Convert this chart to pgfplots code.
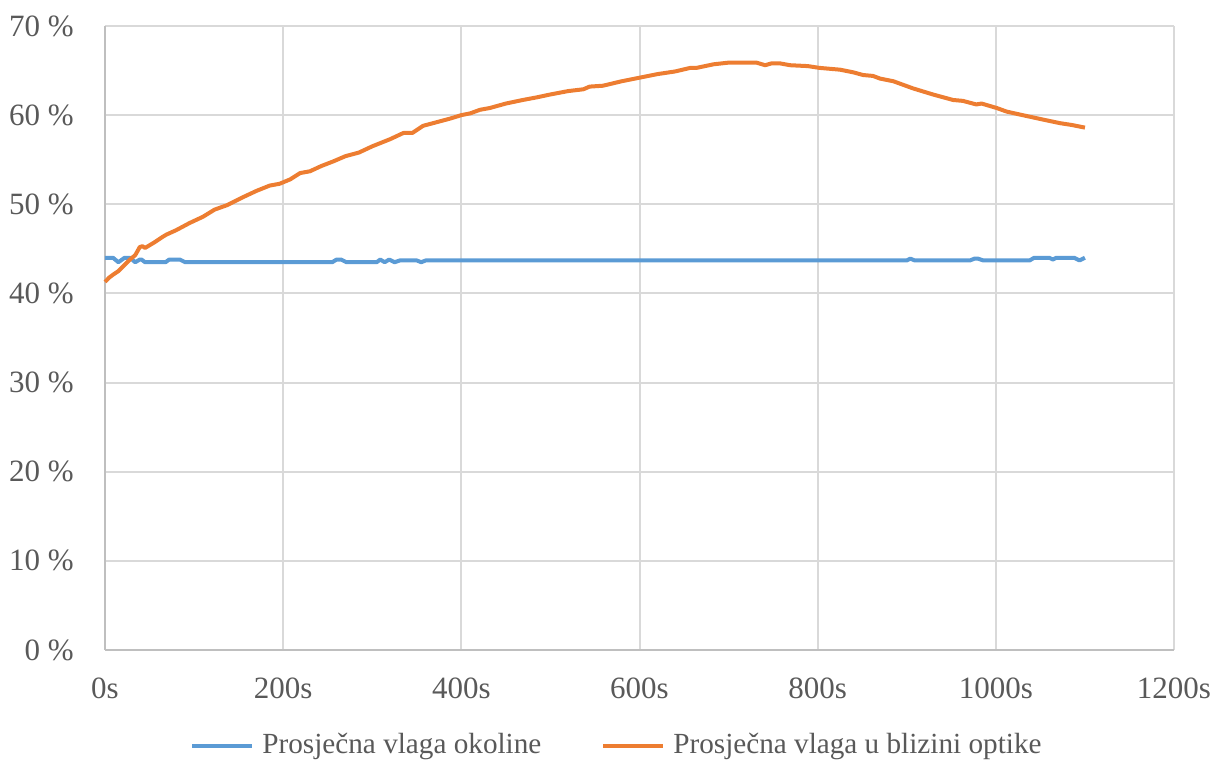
\documentclass[border=0pt]{standalone}
\usepackage{pgfplots}
\pgfplotsset{compat=1.18}
\usepackage{fontspec}
\setmainfont{Liberation Serif}
\usetikzlibrary{calc}

\definecolor{serblue}{HTML}{5B9BD5}
\definecolor{serorange}{HTML}{ED7D31}
\definecolor{txtgray}{HTML}{595959}
\definecolor{gridgray}{HTML}{D9D9D9}
\definecolor{axgray}{HTML}{BFBFBF}

\begin{document}
\begin{tikzpicture}
\fontsize{15.5pt}{18pt}\selectfont
\begin{axis}[
    name=ax,
    scale only axis,
    width=534.5pt, height=312pt,
    xmin=0, xmax=1200, ymin=0, ymax=70,
    axis x line*=bottom, axis y line*=left,
    axis line style={axgray, line width=1pt, -},
    xtick={0,200,...,1200}, ytick={0,10,...,70},
    xticklabels={0s,200s,400s,600s,800s,1000s,1200s},
    yticklabels={0 \%,10 \%,20 \%,30 \%,40 \%,50 \%,60 \%,70 \%},
    major tick length=0pt,
    grid=major,
    major grid style={gridgray, line width=1pt},
    ticklabel style={font=\fontsize{15.5pt}{18pt}\selectfont, text=txtgray},
    yticklabel style={anchor=east, inner sep=0pt, xshift=-15.5pt},
    xticklabel style={anchor=north, inner sep=0pt, yshift=-13.5pt},
    legend columns=2,
    legend style={draw=none, fill=none, at={(0.478,-0.154)}, anchor=center,
        font=\fontsize{14.6pt}{17pt}\selectfont, text=txtgray,
        nodes={inner sep=0pt},
        /tikz/every odd column/.append style={column sep=4pt},
        /tikz/every even column/.append style={column sep=30pt}},
    legend image code/.code={\draw[#1] (0pt,0pt) -- (30pt,0pt);},
    clip=false,
]
\addplot[serblue, line width=2pt, line join=round] coordinates {
(0,44.0)(9,44.0)(15,43.5)(22,44.0)(28,44.0)(34,43.5)(39,43.8)(41,43.8)(45,43.5)
(68,43.5)(72,43.8)(84,43.8)(90,43.5)(255,43.5)(260,43.8)(265,43.8)(271,43.5)
(305,43.5)(309,43.8)(314,43.5)(319,43.8)(325,43.5)(331,43.7)(345,43.7)(350,43.7)
(355,43.5)(360,43.7)(900,43.7)(904,43.9)(909,43.7)(971,43.7)(976,43.9)(980,43.9)
(986,43.7)(1038,43.7)(1043,44.0)(1060,44.0)(1064,43.8)(1068,44.0)(1088,44.0)
(1094,43.7)(1100,44.0)
};
\addlegendentry{Prosječna vlaga okoline}
\addplot[serorange, line width=2pt, line join=round] coordinates {
(0,41.3)(5,41.8)(9,42.1)(15,42.5)(22,43.2)(28,43.8)(34,44.3)(39,45.2)(42,45.3)
(45,45.1)(55,45.7)(64,46.3)(69,46.6)(80,47.1)(95,47.9)(110,48.6)(123,49.4)
(137,49.9)(155,50.8)(170,51.5)(185,52.1)(196,52.3)(208,52.8)(219,53.5)(230,53.7)
(243,54.3)(256,54.8)(270,55.4)(285,55.8)(300,56.5)(320,57.3)(335,58.0)(345,58.0)
(357,58.8)(372,59.2)(387,59.6)(400,60.0)(410,60.2)(421,60.6)(432,60.8)(450,61.3)
(469,61.7)(485,62.0)(499,62.3)(520,62.7)(537,62.9)(544,63.2)(559,63.3)(580,63.8)
(600,64.2)(620,64.6)(640,64.9)(657,65.3)(664,65.3)(683,65.7)(701,65.9)(731,65.9)
(741,65.6)(748,65.8)(758,65.8)(769,65.6)(789,65.5)(802,65.3)(825,65.1)(840,64.8)
(851,64.5)(862,64.4)(870,64.1)(885,63.8)(907,63.0)(930,62.3)(941,62.0)(952,61.7)
(963,61.6)(978,61.2)(984,61.3)(1001,60.8)(1012,60.4)(1030,60.0)(1053,59.5)
(1072,59.1)(1085,58.9)(1100,58.6)
};
\addlegendentry{Prosječna vlaga u blizini optike}
\end{axis}
\pgfresetboundingbox
\path ($(ax.south west)+(-52.5pt,-56.5pt)$) rectangle ($(ax.north east)+(20.5pt,13pt)$);
\end{tikzpicture}
\end{document}
